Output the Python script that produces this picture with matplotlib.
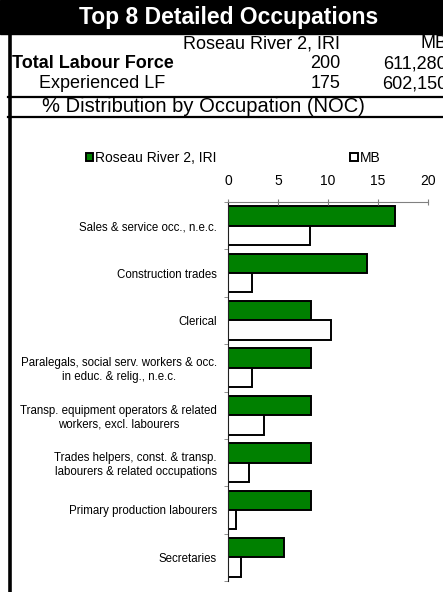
import matplotlib
matplotlib.use("Agg")
import matplotlib.pyplot as plt
from matplotlib.patches import Rectangle, Patch
from matplotlib.lines import Line2D

plt.rcParams["font.family"] = ["Liberation Sans", "DejaVu Sans"]

W, H = 443, 592

occupations = [
    "Sales & service occ., n.e.c.",
    "Construction trades",
    "Clerical",
    "Paralegals, social serv. workers & occ.\nin educ. & relig., n.e.c.",
    "Transp. equipment operators & related\nworkers, excl. labourers",
    "Trades helpers, const. & transp.\nlabourers & related occupations",
    "Primary production labourers",
    "Secretaries",
]
roseau = [16.7, 13.9, 8.3, 8.3, 8.3, 8.3, 8.3, 5.6]
mb = [8.2, 2.4, 10.3, 2.4, 3.6, 2.1, 0.8, 1.3]
xticks = [0, 5, 10, 15, 20]

area_name = "Roseau River 2, IRI"
prov_name = "MB"
header_rows = [("Total Labour Force", "200", "611,280", True),
               ("Experienced LF", "175", "602,150", False)]

GREEN = "#008000"


def fx(px):
    return px / W


def fy(py):
    return 1 - py / H


fig = plt.figure(figsize=(W / 100, H / 100), dpi=100)

# title bar
fig.patches.append(Rectangle((0, fy(34)), 1, 34 / H, transform=fig.transFigure,
                             color="black", zorder=0))
fig.text(fx(229), fy(17.5), "Top 8 Detailed Occupations", color="white",
         fontsize=16.5, fontweight="bold", ha="center", va="center")

# left border and horizontal rules
fig.lines.append(Line2D([fx(9.5), fx(9.5)], [fy(34), 0], transform=fig.transFigure,
                        color="black", lw=2.6))
for y in (97, 117):
    fig.lines.append(Line2D([fx(8), 1], [fy(y), fy(y)], transform=fig.transFigure,
                            color="black", lw=1.6))

# header table
fig.text(fx(340), fy(44), area_name, fontsize=13, ha="right", va="center")
fig.text(fx(447), fy(44), prov_name, fontsize=13, ha="right", va="center")
for i, (lab, v1, v2, bold) in enumerate(header_rows):
    y = fy(64 + 20 * i)
    fig.text(fx(12 if bold else 39), y, lab, fontsize=13, ha="left", va="center",
             fontweight="bold" if bold else "normal")
    fig.text(fx(340), y, v1, fontsize=13, ha="right", va="center")
    fig.text(fx(447), y, v2, fontsize=13, ha="right", va="center")
fig.text(fx(203), fy(107), "% Distribution by Occupation (NOC)", fontsize=14.5,
         ha="center", va="center")

# chart
ax = fig.add_axes([fx(228), fy(581), (428 - 228) / W, (581 - 202) / H])
pos = list(range(len(occupations)))
ax.barh([p - 0.205 for p in pos], roseau, height=0.41, color=GREEN,
        edgecolor="black", lw=1.4, label=area_name)
ax.barh([p + 0.205 for p in pos], mb, height=0.41, color="white",
        edgecolor="black", lw=1.4, label=prov_name)

ax.set_xlim(0, 20)
ax.set_ylim(len(occupations) - 0.5, -0.5)
ax.xaxis.tick_top()
ax.set_xticks(xticks)
ax.tick_params(axis="x", direction="inout", length=4, color="#808080", pad=8,
               labelsize=10)
ax.set_yticks(pos)
ax.set_yticklabels(occupations, fontsize=8.3, multialignment="center")
ax.tick_params(axis="y", which="major", length=0, pad=8)
ax.set_yticks([p - 0.5 for p in pos] + [len(pos) - 0.5], minor=True)
ax.tick_params(axis="y", which="minor", length=3, color="#808080", direction="out")
for s in ("right", "bottom"):
    ax.spines[s].set_visible(False)
ax.spines["top"].set_color("#808080")
ax.spines["left"].set_color("#202020")

handles = [Patch(facecolor=GREEN, edgecolor="black", lw=1.4, label=area_name),
           Patch(facecolor="white", edgecolor="black", lw=1.4, label=prov_name)]
fig.legend(handles=handles, ncol=2, loc="center left",
           bbox_to_anchor=(fx(80), fy(158)), frameon=False, fontsize=10,
           handlelength=0.55, handleheight=0.55, handletextpad=0.15,
           columnspacing=9.6, borderaxespad=0)

fig.savefig("out.png", dpi=100)
